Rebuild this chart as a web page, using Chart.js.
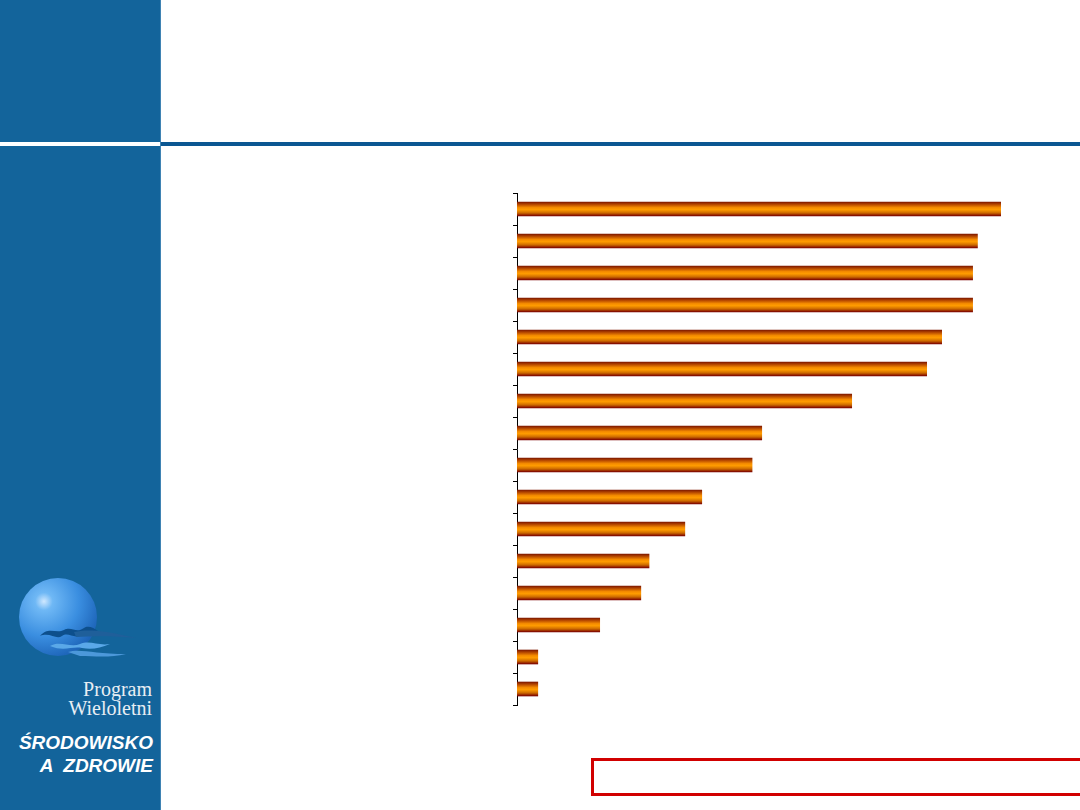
<!DOCTYPE html>
<html>
<head>
<meta charset="utf-8">
<script src="https://cdn.jsdelivr.net/npm/chart.js@4"></script>
<style>
  html, body { margin: 0; padding: 0; background: #fff; }
  body { width: 1080px; height: 810px; position: relative; overflow: hidden; font-family: "Liberation Sans", Arial, sans-serif; }
  #sidebar { position: absolute; left: 0; top: 0; width: 160px; height: 810px; background: #13649b; border-right: 1px solid #3f83b3; }
  #sideRule { position: absolute; left: 0; top: 142px; width: 160px; height: 4px; background: #fff; }
  #topRule { position: absolute; left: 161px; top: 142px; width: 919px; height: 4px; background: #0b5792; }
  #logo { position: absolute; left: 14px; top: 574px; }
  .serif { position: absolute; right: 928px; font-family: "Liberation Serif", "DejaVu Serif", serif; font-size: 20px; line-height: 20px; color: #e8eef4; text-align: right; }
  .brand { position: absolute; right: 927px; font-family: "Liberation Sans", Arial, sans-serif; font-weight: bold; font-style: italic; font-size: 19px; line-height: 20px; color: #fff; white-space: pre; }
  #chartBox { position: absolute; left: 500px; top: 180px; width: 580px; height: 540px; }
  #redBox { position: absolute; left: 591px; top: 758px; width: 500px; height: 32px; border: 3px solid #d10000; }
</style>
</head>
<body>
<div id="sidebar"></div>
<div id="sideRule"></div>
<div id="topRule"></div>
<svg id="logo" width="125" height="92" viewBox="0 0 125 92">
  <defs>
    <radialGradient id="ball" cx="0.32" cy="0.3" r="0.75">
      <stop offset="0" stop-color="#cfe8ff"/>
      <stop offset="0.15" stop-color="#6fb8f5"/>
      <stop offset="0.6" stop-color="#3a8ee0"/>
      <stop offset="1" stop-color="#1d64b8"/>
    </radialGradient>
  </defs>
  <circle cx="44" cy="43" r="39" fill="url(#ball)"/>
  <path d="M26 62 C34 52 42 60 50 56 C58 52 62 60 70 54 C74 51 80 54 84 57 C76 56 72 60 66 62 C58 64 54 58 48 62 C42 66 36 58 26 62 Z" fill="#0d4f8c"/>
  <path d="M60 58 C72 55 90 56 122 64 C100 62 80 62 62 63 Z" fill="#1f5f9a"/>
  <path d="M36 72 C46 66 56 74 66 70 C76 66 84 72 96 70 C86 74 78 76 68 74 C58 72 50 78 36 72 Z" fill="#5aa8e8"/>
  <path d="M54 78 C66 74 80 80 112 80 C96 84 80 82 66 82 Z" fill="#4c98da"/>
</svg>
<div class="serif" style="top:679px;">Program</div>
<div class="serif" style="top:698px;">Wieloletni</div>
<div class="brand" style="top:733px;">ŚRODOWISKO</div>
<div class="brand" style="top:756px;">A  ZDROWIE</div>
<div id="chartBox"><canvas id="bars"></canvas></div>
<div id="redBox"></div>

<script>
// Category slots (their labels are not shown on the slide)
const categories = ["1", "2", "3", "4", "5", "6", "7", "8", "9", "10", "11", "12", "13", "14", "15", "16"];

// Bar lengths (longest bar = 100)
const values = [100, 95.2, 94.2, 94.2, 87.8, 84.7, 69.2, 50.6, 48.6, 38.2, 34.7, 27.3, 25.6, 17.1, 4.3, 4.3];

const barThick = 14;

// Orange tube look: dark edges, bright middle
function tubeFill(context) {
    const chart = context.chart;
    const yScale = chart.scales.y;
    if (!yScale) return "#ff9900";
    const yc = yScale.getPixelForValue(context.dataIndex);
    if (!isFinite(yc)) return "#ff9900";
    const g = chart.ctx.createLinearGradient(0, yc - barThick / 2, 0, yc + barThick / 2);
    g.addColorStop(0, "#7e1800");
    g.addColorStop(0.18, "#b84a00");
    g.addColorStop(0.4, "#f58c00");
    g.addColorStop(0.55, "#ff9c00");
    g.addColorStop(0.78, "#cc6a00");
    g.addColorStop(1, "#7a0000");
    return g;
}

const ctx = document.getElementById("bars").getContext("2d");
new Chart(ctx, {
    type: "bar",
    data: {
        labels: categories,
        datasets: [{
            data: values,
            backgroundColor: tubeFill,
            borderWidth: 0,
            barThickness: barThick
        }]
    },
    options: {
        indexAxis: "y",
        responsive: true,
        maintainAspectRatio: false,
        animation: false,
        layout: { padding: { left: 13, top: 13, bottom: 15, right: 0 } },
        plugins: {
            legend: { display: false },
            tooltip: { enabled: false }
        },
        scales: {
            x: {
                display: false,
                min: 0,
                max: 116.4
            },
            y: {
                ticks: { display: false },
                grid: {
                    offset: true,
                    drawOnChartArea: false,
                    drawTicks: true,
                    tickLength: 4,
                    color: "#000",
                    lineWidth: 1
                },
                border: { display: true, color: "#000", width: 1 },
                afterFit: function(scale) { scale.width = 4; }
            }
        }
    }
});
</script>
</body>
</html>
